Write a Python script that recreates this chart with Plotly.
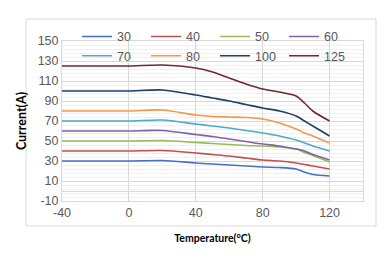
import plotly.graph_objects as go

temps = [-40, -20, 0, 20, 40, 50, 60, 70, 80, 90, 100, 105, 110, 120]
names = ["30", "40", "50", "60", "70", "80", "100", "125"]
colors = ["#4472C4", "#C0504D", "#9BBB59", "#8064A2", "#4BACC6", "#F79646", "#1F3F66", "#6E2B2B"]
s30 = [30, 30, 30, 30.5, 28, 27, 26, 25, 24, 23.5, 22, 19, 16.5, 15]
s40 = [40, 40, 40, 40.5, 38, 36.5, 35, 33, 31, 30, 28, 26.5, 25, 22]
s50 = [50, 50, 50, 50.5, 48.5, 47.5, 46.5, 45.5, 45, 44, 42, 38.5, 35.5, 29]
s60 = [60, 60, 60, 60.5, 56.5, 54.5, 52, 49.5, 47, 45, 42, 40, 36.5, 31]
s70 = [70, 70, 70, 71, 67, 65, 63, 60.5, 58, 55, 51, 48, 45, 40]
s80 = [80, 80, 80, 81, 76, 74.5, 74, 73.5, 72, 68, 62, 58, 55, 48]
s100 = [100, 100, 100, 101, 96, 93, 90, 86.5, 83, 80, 75, 70, 65, 55]
s125 = [125, 125, 125, 126, 123, 119, 113, 107, 102, 99, 95, 88, 80, 70]
series = [s30, s40, s50, s60, s70, s80, s100, s125]
xticks = [-40, 0, 40, 80, 120]
yticks = [-10, 10, 30, 50, 70, 90, 110, 130, 150]

fig = go.Figure()
for n, c, s in zip(names, colors, series):
    fig.add_trace(go.Scatter(x=temps, y=s, name=n, mode="lines",
                             line=dict(color=c, width=1.6, shape="spline", smoothing=0.8)))

font = "Liberation Sans"
tfont = "Lato"
fig.update_layout(
    width=392, height=260,
    margin=dict(l=62, r=29, t=41, b=59),
    paper_bgcolor="white", plot_bgcolor="white",
    font=dict(family=font, size=12.5, color="#595959"),
    showlegend=True,
    legend=dict(orientation="h", x=0.05, y=1.12, xanchor="left", yanchor="top",
                entrywidth=24, entrywidthmode="pixels", bgcolor="rgba(0,0,0,0)",
                font=dict(size=12.5, color="#595959"), itemwidth=30, tracegroupgap=0),
    xaxis=dict(range=[-40, 140], tickvals=xticks, ticktext=[str(v) for v in xticks],
               showgrid=True, gridcolor="#D9D9D9",
               gridwidth=1, zeroline=False, showline=True, linecolor="#D9D9D9", mirror=True,
               ticks="", tickfont=dict(size=12.5, color="#595959"),
               title=dict(text="<b>Temperature(°C)</b>", font=dict(size=10.5, color="#000000", family=tfont), standoff=15)),
    yaxis=dict(range=[-10, 150], tickvals=yticks, ticktext=[str(v) for v in yticks],
               showgrid=True, gridcolor="#D9D9D9",
               gridwidth=1, zeroline=True, zerolinecolor="#D9D9D9", zerolinewidth=1,
               showline=True, linecolor="#D9D9D9", mirror=True, ticks="",
               minor=dict(dtick=4, tick0=-10, showgrid=True, gridcolor="#F0F0F0", gridwidth=1),
               tickfont=dict(size=12.5, color="#595959"),
               title=dict(text="<b>Current(A)</b>", font=dict(size=12.5, color="#000000", family=tfont), standoff=8)),
)
fig.add_shape(type="rect", xref="paper", yref="paper",
              x0=(26 - 62) / 301, x1=(376 - 62) / 301,
              y0=(260 - 59 - 226) / 160, y1=(260 - 59 - 19) / 160,
              line=dict(color="#D9D9D9", width=1), layer="below")
fig.write_html("out.html")
